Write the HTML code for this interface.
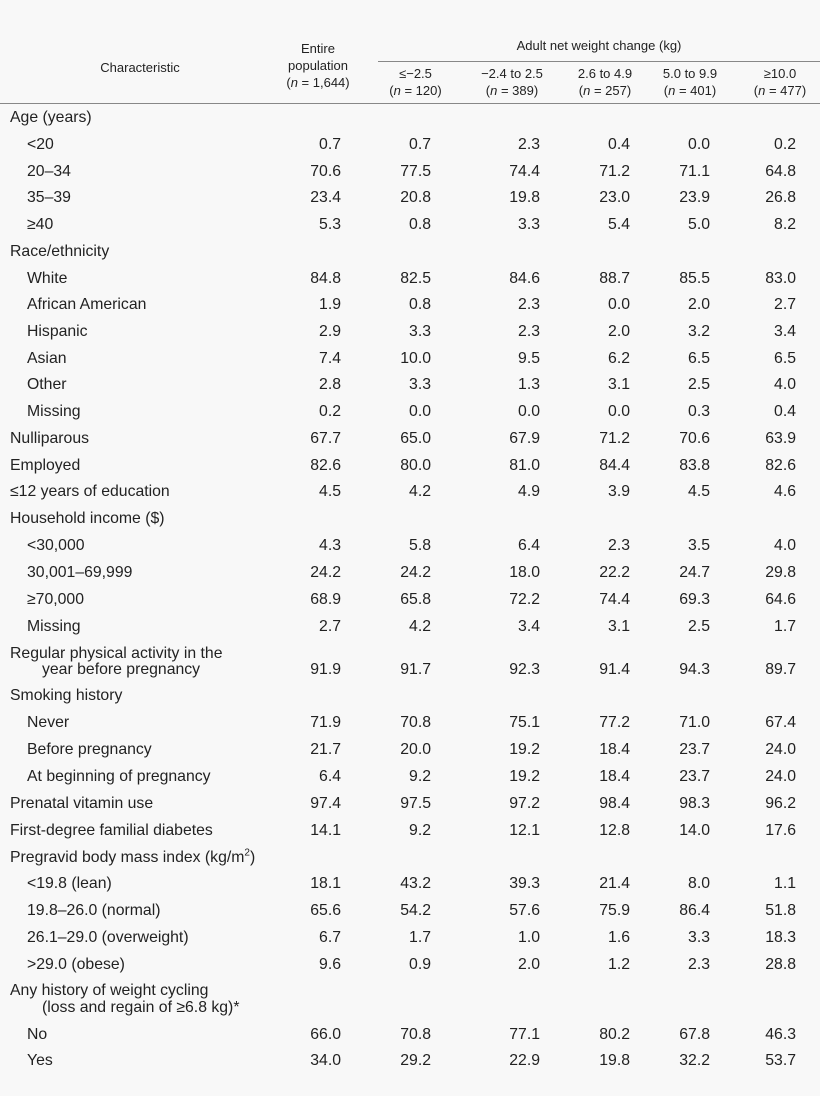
<!DOCTYPE html>
<html><head><meta charset="utf-8"><style>
body{margin:0;width:820px;height:1096px;background:#f8f8f8;font-family:"Liberation Sans",sans-serif;color:#222;position:relative;overflow:hidden}
.r{position:absolute;left:0;width:820px;height:18px;line-height:18px;font-size:15.8px}
.r span{position:absolute;top:0;white-space:nowrap}
.l{left:10px}.i{left:27px}
.a{right:479px}.b{right:389px}.c{right:280px}.d{right:190px}.e{right:110px}.f{right:24px}
.h{position:absolute;font-size:13px;line-height:17px;text-align:center}
.line{position:absolute;height:1px;background:#888}
</style></head><body>
<div class="h" style="left:60px;width:160px;top:59px">Characteristic</div>
<div class="h" style="left:278px;width:80px;top:40px">Entire<br>population<br>(<i>n</i> = 1,644)</div>
<div class="h" style="left:378px;width:442px;top:37px">Adult net weight change (kg)</div>
<div class="line" style="left:378px;width:442px;top:61px"></div>
<div class="h" style="left:378px;width:75px;top:65px">≤−2.5<br>(<i>n</i> = 120)</div>
<div class="h" style="left:462px;width:100px;top:65px">−2.4 to 2.5<br>(<i>n</i> = 389)</div>
<div class="h" style="left:565px;width:80px;top:65px">2.6 to 4.9<br>(<i>n</i> = 257)</div>
<div class="h" style="left:650px;width:80px;top:65px">5.0 to 9.9<br>(<i>n</i> = 401)</div>
<div class="h" style="left:740px;width:80px;top:65px">≥10.0<br>(<i>n</i> = 477)</div>
<div class="line" style="left:0;width:820px;top:103px"></div>

<div class="r" style="top:109px"><span class="l">Age (years)</span></div>
<div class="r" style="top:136px"><span class="i">&lt;20</span><span class="a">0.7</span><span class="b">0.7</span><span class="c">2.3</span><span class="d">0.4</span><span class="e">0.0</span><span class="f">0.2</span></div>
<div class="r" style="top:163px"><span class="i">20–34</span><span class="a">70.6</span><span class="b">77.5</span><span class="c">74.4</span><span class="d">71.2</span><span class="e">71.1</span><span class="f">64.8</span></div>
<div class="r" style="top:189px"><span class="i">35–39</span><span class="a">23.4</span><span class="b">20.8</span><span class="c">19.8</span><span class="d">23.0</span><span class="e">23.9</span><span class="f">26.8</span></div>
<div class="r" style="top:216px"><span class="i">≥40</span><span class="a">5.3</span><span class="b">0.8</span><span class="c">3.3</span><span class="d">5.4</span><span class="e">5.0</span><span class="f">8.2</span></div>
<div class="r" style="top:243px"><span class="l">Race/ethnicity</span></div>
<div class="r" style="top:270px"><span class="i">White</span><span class="a">84.8</span><span class="b">82.5</span><span class="c">84.6</span><span class="d">88.7</span><span class="e">85.5</span><span class="f">83.0</span></div>
<div class="r" style="top:296px"><span class="i">African American</span><span class="a">1.9</span><span class="b">0.8</span><span class="c">2.3</span><span class="d">0.0</span><span class="e">2.0</span><span class="f">2.7</span></div>
<div class="r" style="top:323px"><span class="i">Hispanic</span><span class="a">2.9</span><span class="b">3.3</span><span class="c">2.3</span><span class="d">2.0</span><span class="e">3.2</span><span class="f">3.4</span></div>
<div class="r" style="top:350px"><span class="i">Asian</span><span class="a">7.4</span><span class="b">10.0</span><span class="c">9.5</span><span class="d">6.2</span><span class="e">6.5</span><span class="f">6.5</span></div>
<div class="r" style="top:376px"><span class="i">Other</span><span class="a">2.8</span><span class="b">3.3</span><span class="c">1.3</span><span class="d">3.1</span><span class="e">2.5</span><span class="f">4.0</span></div>
<div class="r" style="top:403px"><span class="i">Missing</span><span class="a">0.2</span><span class="b">0.0</span><span class="c">0.0</span><span class="d">0.0</span><span class="e">0.3</span><span class="f">0.4</span></div>
<div class="r" style="top:430px"><span class="l">Nulliparous</span><span class="a">67.7</span><span class="b">65.0</span><span class="c">67.9</span><span class="d">71.2</span><span class="e">70.6</span><span class="f">63.9</span></div>
<div class="r" style="top:457px"><span class="l">Employed</span><span class="a">82.6</span><span class="b">80.0</span><span class="c">81.0</span><span class="d">84.4</span><span class="e">83.8</span><span class="f">82.6</span></div>
<div class="r" style="top:483px"><span class="l">≤12 years of education</span><span class="a">4.5</span><span class="b">4.2</span><span class="c">4.9</span><span class="d">3.9</span><span class="e">4.5</span><span class="f">4.6</span></div>
<div class="r" style="top:510px"><span class="l">Household income ($)</span></div>
<div class="r" style="top:537px"><span class="i">&lt;30,000</span><span class="a">4.3</span><span class="b">5.8</span><span class="c">6.4</span><span class="d">2.3</span><span class="e">3.5</span><span class="f">4.0</span></div>
<div class="r" style="top:564px"><span class="i">30,001–69,999</span><span class="a">24.2</span><span class="b">24.2</span><span class="c">18.0</span><span class="d">22.2</span><span class="e">24.7</span><span class="f">29.8</span></div>
<div class="r" style="top:591px"><span class="i">≥70,000</span><span class="a">68.9</span><span class="b">65.8</span><span class="c">72.2</span><span class="d">74.4</span><span class="e">69.3</span><span class="f">64.6</span></div>
<div class="r" style="top:618px"><span class="i">Missing</span><span class="a">2.7</span><span class="b">4.2</span><span class="c">3.4</span><span class="d">3.1</span><span class="e">2.5</span><span class="f">1.7</span></div>
<div class="r" style="top:645px"><span class="l">Regular physical activity in the</span></div>
<div class="r" style="top:661px"><span style="left:42px">year before pregnancy</span><span class="a">91.9</span><span class="b">91.7</span><span class="c">92.3</span><span class="d">91.4</span><span class="e">94.3</span><span class="f">89.7</span></div>
<div class="r" style="top:687px"><span class="l">Smoking history</span></div>
<div class="r" style="top:714px"><span class="i">Never</span><span class="a">71.9</span><span class="b">70.8</span><span class="c">75.1</span><span class="d">77.2</span><span class="e">71.0</span><span class="f">67.4</span></div>
<div class="r" style="top:741px"><span class="i">Before pregnancy</span><span class="a">21.7</span><span class="b">20.0</span><span class="c">19.2</span><span class="d">18.4</span><span class="e">23.7</span><span class="f">24.0</span></div>
<div class="r" style="top:768px"><span class="i">At beginning of pregnancy</span><span class="a">6.4</span><span class="b">9.2</span><span class="c">19.2</span><span class="d">18.4</span><span class="e">23.7</span><span class="f">24.0</span></div>
<div class="r" style="top:795px"><span class="l">Prenatal vitamin use</span><span class="a">97.4</span><span class="b">97.5</span><span class="c">97.2</span><span class="d">98.4</span><span class="e">98.3</span><span class="f">96.2</span></div>
<div class="r" style="top:822px"><span class="l">First-degree familial diabetes</span><span class="a">14.1</span><span class="b">9.2</span><span class="c">12.1</span><span class="d">12.8</span><span class="e">14.0</span><span class="f">17.6</span></div>
<div class="r" style="top:849px"><span class="l">Pregravid body mass index (kg/m<sup style="font-size:10px;line-height:0">2</sup>)</span></div>
<div class="r" style="top:875px"><span class="i">&lt;19.8 (lean)</span><span class="a">18.1</span><span class="b">43.2</span><span class="c">39.3</span><span class="d">21.4</span><span class="e">8.0</span><span class="f">1.1</span></div>
<div class="r" style="top:902px"><span class="i">19.8–26.0 (normal)</span><span class="a">65.6</span><span class="b">54.2</span><span class="c">57.6</span><span class="d">75.9</span><span class="e">86.4</span><span class="f">51.8</span></div>
<div class="r" style="top:929px"><span class="i">26.1–29.0 (overweight)</span><span class="a">6.7</span><span class="b">1.7</span><span class="c">1.0</span><span class="d">1.6</span><span class="e">3.3</span><span class="f">18.3</span></div>
<div class="r" style="top:956px"><span class="i">&gt;29.0 (obese)</span><span class="a">9.6</span><span class="b">0.9</span><span class="c">2.0</span><span class="d">1.2</span><span class="e">2.3</span><span class="f">28.8</span></div>
<div class="r" style="top:982px"><span class="l">Any history of weight cycling</span></div>
<div class="r" style="top:999px"><span style="left:42px">(loss and regain of ≥6.8 kg)*</span></div>
<div class="r" style="top:1026px"><span class="i">No</span><span class="a">66.0</span><span class="b">70.8</span><span class="c">77.1</span><span class="d">80.2</span><span class="e">67.8</span><span class="f">46.3</span></div>
<div class="r" style="top:1052px"><span class="i">Yes</span><span class="a">34.0</span><span class="b">29.2</span><span class="c">22.9</span><span class="d">19.8</span><span class="e">32.2</span><span class="f">53.7</span></div>
</body></html>
